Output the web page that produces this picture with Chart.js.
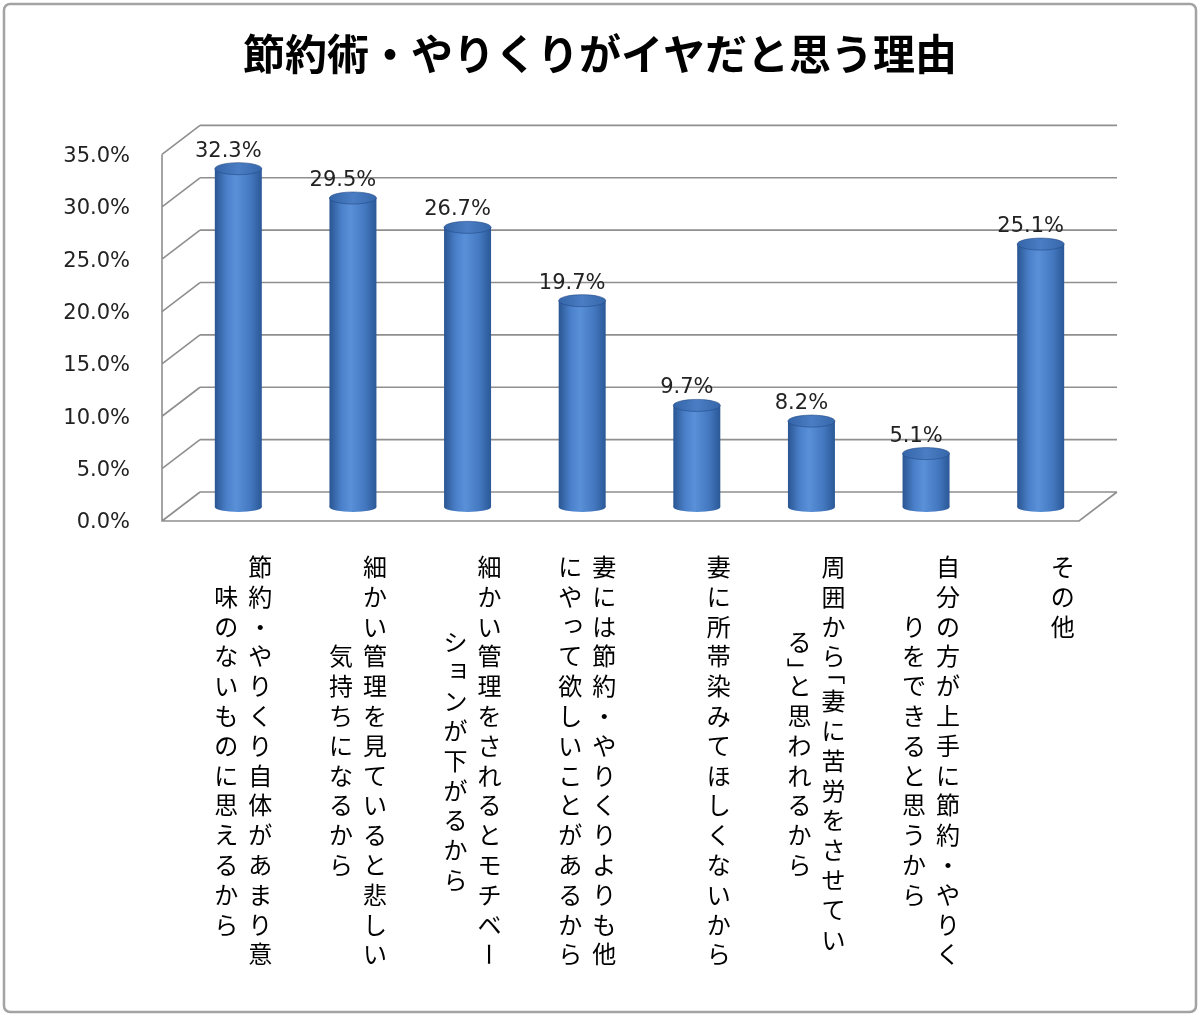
<!DOCTYPE html>
<html>
<head>
<meta charset="utf-8">
<script src="https://cdn.jsdelivr.net/npm/chart.js@4.4.1/dist/chart.umd.min.js"></script>
<style>
  html, body { margin: 0; padding: 0; background: #ffffff; }
  #wrap { position: relative; width: 1200px; height: 1014px; }
  canvas { display: block; }
</style>
</head>
<body>
<div id="wrap"><canvas id="c" width="1200" height="1014"></canvas></div>
<script>
// ---- data ----
const chartTitle = '節約術・やりくりがイヤだと思う理由';
const categories = [
  ['節約・やりくり自体があまり意', '味のないものに思えるから'],
  ['細かい管理を見ていると悲しい', '気持ちになるから'],
  ['細かい管理をされるとモチベー', 'ションが下がるから'],
  ['妻には節約・やりくりよりも他', 'にやって欲しいことがあるから'],
  ['妻に所帯染みてほしくないから'],
  ['周囲から「妻に苦労をさせてい', 'る」と思われるから'],
  ['自分の方が上手に節約・やりく', 'りをできると思うから'],
  ['その他']
];
const values = [32.3, 29.5, 26.7, 19.7, 9.7, 8.2, 5.1, 25.1];
const yTickValues = [0, 5, 10, 15, 20, 25, 30, 35];

// ---- style constants ----
const BACK = { dx: 19, dy: -15 };
const FRONT = { dx: -19, dy: 14 };
const LINE = '#8f8f8f';
const BAR_PCT = 0.41;
const NUM_FONT = '"DejaVu Sans", sans-serif';
const JP_FONT = '"Noto Sans CJK JP", sans-serif';

function bodyGradient(ctx, cx, w) {
  const g = ctx.createLinearGradient(cx - w / 2, 0, cx + w / 2, 0);
  g.addColorStop(0, '#2a5592');
  g.addColorStop(0.25, '#4a80c9');
  g.addColorStop(0.45, '#5990d8');
  g.addColorStop(0.75, '#4479c1');
  g.addColorStop(1, '#2b5897');
  return g;
}

const framePlugin = {
  id: 'frame',
  beforeDraw(chart) {
    const ctx = chart.ctx;
    ctx.save();
    ctx.fillStyle = '#ffffff';
    ctx.fillRect(0, 0, chart.width, chart.height);
    ctx.strokeStyle = '#a3a3a3';
    ctx.lineWidth = 2.5;
    ctx.beginPath();
    ctx.roundRect(4, 4, chart.width - 8, chart.height - 6, 6);
    ctx.stroke();
    ctx.restore();
  }
};

const wallPlugin = {
  id: 'wall3d',
  beforeDatasetsDraw(chart) {
    const ctx = chart.ctx;
    const ys = chart.scales.y;
    const { left, right } = chart.chartArea;
    ctx.save();
    ctx.strokeStyle = LINE;
    ctx.lineWidth = 1.6;
    ctx.beginPath();
    ys.ticks.forEach(t => {
      const ym = ys.getPixelForValue(t.value);
      ctx.moveTo(left + BACK.dx, ym + BACK.dy);
      ctx.lineTo(right + BACK.dx, ym + BACK.dy);
      ctx.moveTo(left + FRONT.dx, ym + FRONT.dy);
      ctx.lineTo(left + BACK.dx, ym + BACK.dy);
    });
    const yTop = ys.getPixelForValue(ys.max);
    const y0 = ys.getPixelForValue(0);
    ctx.moveTo(left + FRONT.dx, yTop + FRONT.dy);
    ctx.lineTo(left + FRONT.dx, y0 + FRONT.dy);
    ctx.lineTo(right + FRONT.dx, y0 + FRONT.dy);
    ctx.lineTo(right + BACK.dx, y0 + BACK.dy);
    ctx.stroke();
    ctx.restore();
  }
};

const cylinderPlugin = {
  id: 'cyl',
  afterDatasetsDraw(chart) {
    const ctx = chart.ctx;
    const meta = chart.getDatasetMeta(0);
    ctx.save();
    meta.data.forEach((bar, i) => {
      const { x, y, base, width } = bar.getProps(['x', 'y', 'base', 'width'], true);
      const rx = width / 2;
      ctx.fillStyle = bodyGradient(ctx, x, width);
      ctx.beginPath();
      ctx.ellipse(x, base, rx, 5, 0, 0, Math.PI * 2);
      ctx.fill();
      const cg = ctx.createLinearGradient(x - rx, y, x + rx, y);
      cg.addColorStop(0, '#3565a8');
      cg.addColorStop(0.5, '#4a7dc4');
      cg.addColorStop(1, '#3767aa');
      ctx.fillStyle = cg;
      ctx.beginPath();
      ctx.ellipse(x, y, rx, 6, 0, 0, Math.PI * 2);
      ctx.fill();
      ctx.strokeStyle = 'rgba(35,75,135,0.6)';
      ctx.lineWidth = 1;
      ctx.stroke();
      ctx.fillStyle = '#222222';
      ctx.font = '21px ' + NUM_FONT;
      ctx.textAlign = 'center';
      ctx.textBaseline = 'alphabetic';
      ctx.fillText(values[i].toFixed(1) + '%', x - 10, y - 12);
    });
    ctx.restore();
  }
};

const SMALL_KANA = 'ぁぃぅぇぉっゃゅょゎァィゥェォッャュョヮ';
const verticalLabelPlugin = {
  id: 'vlabels',
  afterDraw(chart) {
    const ctx = chart.ctx;
    const xs = chart.scales.x;
    const pitch = 29.8;
    const colStep = 34;
    const topY = 552;
    const fs = 24;
    ctx.save();
    ctx.fillStyle = '#000000';
    ctx.font = fs + 'px ' + JP_FONT;
    ctx.textAlign = 'center';
    ctx.textBaseline = 'middle';
    const cellW = ch => (ch === '「' || ch === '」') ? 0.5 : 1;
    chart.data.labels.forEach((lab, i) => {
      const lines = Array.isArray(lab) ? lab : [lab];
      const lens = lines.map(l => Array.from(l).reduce((s, c) => s + cellW(c), 0));
      const maxLen = Math.max(...lens);
      const x0 = xs.getPixelForValue(i) + 22;
      lines.forEach((line, li) => {
        const cx = x0 - li * colStep;
        let cum = (maxLen - lens[li]) / 2;
        Array.from(line).forEach(ch => {
          const w = cellW(ch);
          const cy = topY + (cum + w / 2) * pitch;
          ctx.save();
          if (ch === 'ー' || ch === '「' || ch === '」') {
            let oy = 0;
            if (ch === '「') oy = -0.25 * fs;
            if (ch === '」') oy = 0.25 * fs;
            ctx.translate(cx, cy + oy);
            ctx.rotate(Math.PI / 2);
            ctx.fillText(ch, 0, 0);
          } else if (SMALL_KANA.includes(ch)) {
            ctx.fillText(ch, cx + 0.12 * fs, cy - 0.14 * fs);
          } else {
            ctx.fillText(ch, cx, cy);
          }
          ctx.restore();
          cum += w;
        });
      });
    });
    ctx.restore();
  }
};

new Chart(document.getElementById('c'), {
  type: 'bar',
  data: {
    labels: categories,
    datasets: [{
      data: values,
      backgroundColor: (c) => {
        const chart = c.chart;
        const xs = chart.scales.x;
        if (!chart.chartArea || !xs || c.dataIndex === undefined) return '#4a7ebb';
        const cx = xs.getPixelForValue(c.dataIndex);
        const w = (xs.width / categories.length) * BAR_PCT;
        return bodyGradient(chart.ctx, cx, w);
      },
      borderWidth: 0,
      categoryPercentage: 1,
      barPercentage: BAR_PCT
    }]
  },
  options: {
    responsive: false,
    animation: false,
    devicePixelRatio: 1,
    layout: { padding: 0 },
    plugins: {
      legend: { display: false },
      tooltip: { enabled: false },
      title: {
        display: true,
        text: chartTitle,
        color: '#000000',
        font: { family: JP_FONT, size: 42, weight: 'bold' },
        padding: { top: 29, bottom: 61 }
      }
    },
    scales: {
      x: {
        grid: { display: false },
        border: { display: false },
        ticks: { display: false },
        afterFit(scale) { scale.height = 507; }
      },
      y: {
        min: 0,
        max: 35,
        grid: { display: false, drawTicks: false },
        border: { display: false },
        afterBuildTicks(scale) { scale.ticks = yTickValues.map(v => ({ value: v })); },
        afterFit(scale) { scale.width = 181; },
        ticks: {
          padding: 51,
          labelOffset: 16,
          color: '#222222',
          font: { family: NUM_FONT, size: 21 },
          callback: (v) => Number(v).toFixed(1) + '%'
        }
      },
      yRight: {
        position: 'right',
        display: true,
        min: 0,
        max: 35,
        grid: { display: false, drawTicks: false },
        border: { display: false },
        ticks: { display: false },
        afterFit(scale) { scale.width = 102; }
      }
    }
  },
  plugins: [framePlugin, wallPlugin, cylinderPlugin, verticalLabelPlugin]
});
</script>
</body>
</html>
